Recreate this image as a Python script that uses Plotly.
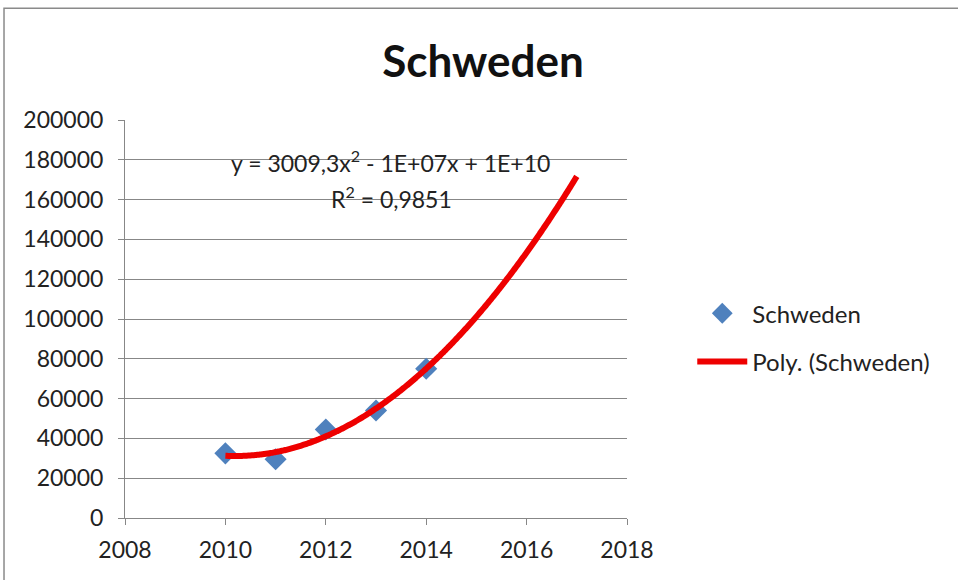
import numpy as np
import plotly.graph_objects as go

years = [2010, 2011, 2012, 2013, 2014]
values = [32500, 29500, 44500, 54000, 75000]
trend_end = 2017
series_name = "Schweden"
trend_name = "Poly. (Schweden)"
equation_text = "y = 3009,3x<sup>2</sup> - 1E+07x + 1E+10"
r2_text = "R<sup>2</sup> = 0,9851"

# Excel-style polynomial (order 2) trendline fitted to the data, forecast to 2017
coef = np.polyfit(np.array(years) - 2010, values, 2)
tx = np.linspace(years[0], trend_end, 200)
ty = np.polyval(coef, tx - 2010)

FONT = "Lato, Carlito, Calibri, sans-serif"

fig = go.Figure()
fig.add_trace(go.Scatter(
    x=years, y=values, mode="markers", name=series_name,
    marker=dict(symbol="diamond", size=17, color="#4F81BD"),
    legendgroup="a",
))
fig.add_trace(go.Scatter(
    x=tx, y=ty, mode="lines", name=trend_name,
    line=dict(color="#EE0000", width=6, shape="spline"),
    legendgroup="b",
))

fig.add_annotation(x=2013.28, y=178900, xref="x", yref="y", text=equation_text,
                   showarrow=False, font=dict(family=FONT, size=23, color="#222222"))
fig.add_annotation(x=2013.3, y=161300, xref="x", yref="y", text=r2_text,
                   showarrow=False, font=dict(family=FONT, size=23, color="#222222"))

fig.add_shape(type="rect", xref="paper", yref="paper",
              x0=-0.241, x1=1.70, y0=-0.2, y1=1.281,
              line=dict(color="#8A8A8A", width=1.5), layer="below")

fig.update_layout(
    width=958, height=580,
    margin=dict(l=125, r=331, t=120, b=62),
    paper_bgcolor="white", plot_bgcolor="white",
    font=dict(family=FONT, size=23, color="#222222"),
    title=dict(text="<b>Schweden</b>", x=483 / 958, xanchor="center",
               y=1 - 62 / 580, yanchor="middle",
               font=dict(family=FONT, size=44, color="#111111")),
    showlegend=True,
    legend=dict(x=1.13, y=0.57, xanchor="left", yanchor="top",
                font=dict(family=FONT, size=24, color="#222222"),
                tracegroupgap=14, itemwidth=50, bgcolor="rgba(0,0,0,0)"),
    xaxis=dict(range=[2008, 2018], dtick=2, tick0=2008, showgrid=False,
               showline=True, linecolor="#878787", linewidth=1,
               ticks="outside", ticklen=6, tickcolor="#878787",
               ticklabelstandoff=5,
               zeroline=False, tickformat="d"),
    yaxis=dict(range=[0, 200000], dtick=20000, showgrid=True,
               gridcolor="#878787", gridwidth=1,
               showline=True, linecolor="#878787", linewidth=1,
               ticks="outside", ticklen=6, tickcolor="#878787",
               ticklabelstandoff=10,
               zeroline=False, tickformat="d"),
)

fig.write_html("out.html", config={"displayModeBar": False},
               post_script="document.body.style.margin='0';")
